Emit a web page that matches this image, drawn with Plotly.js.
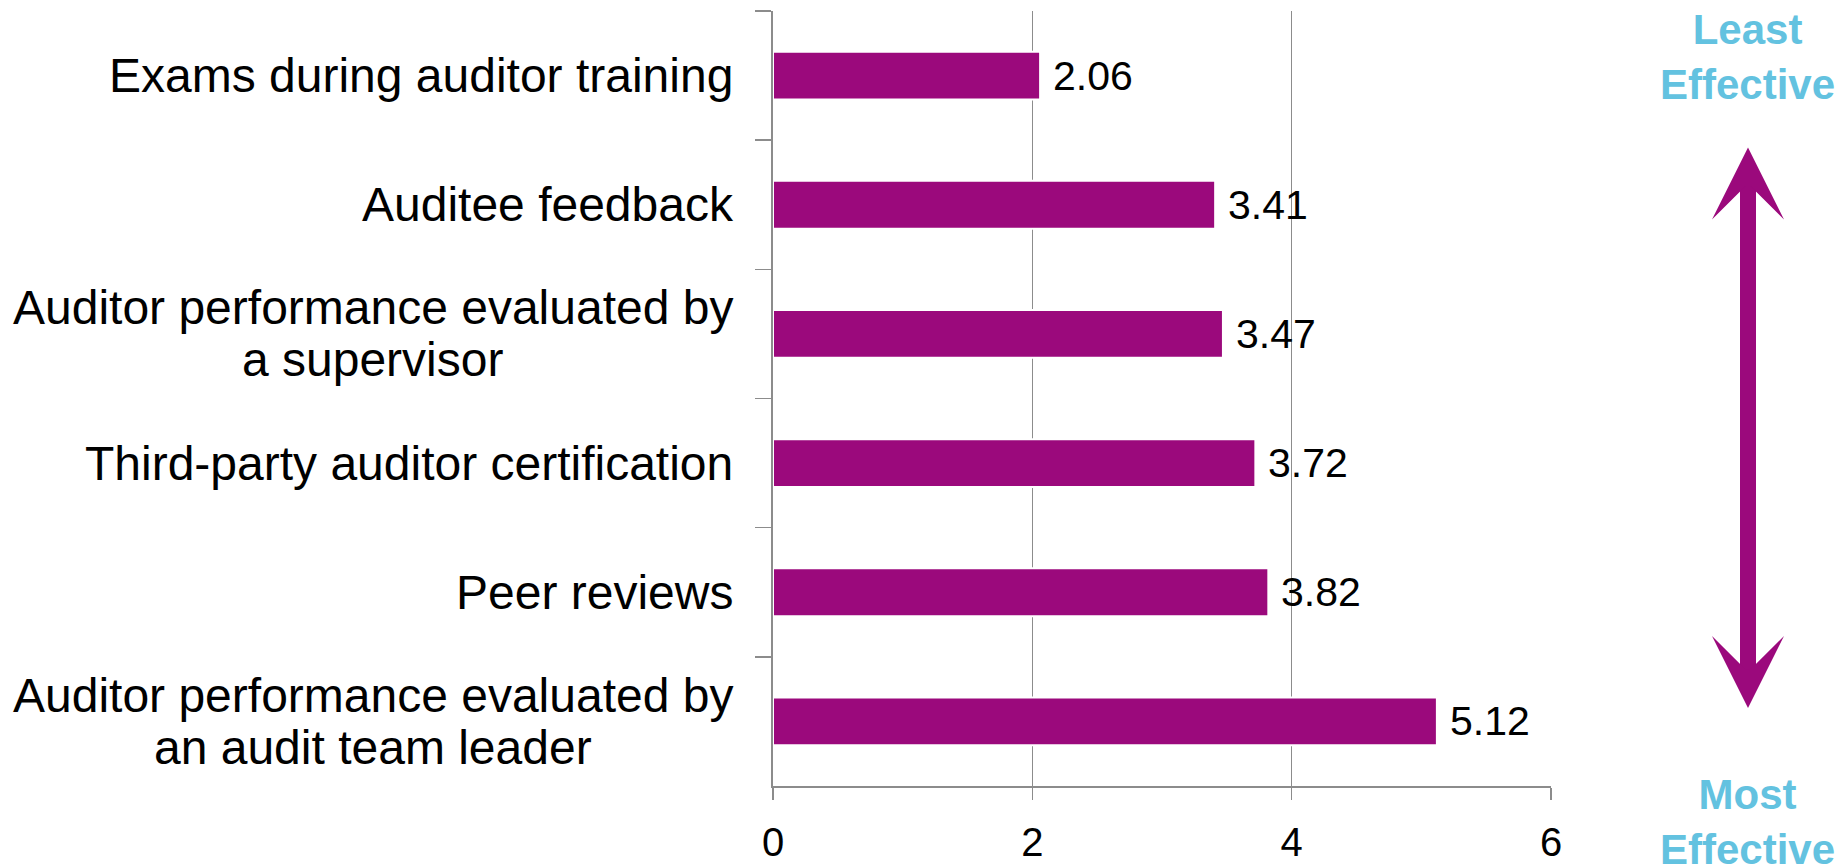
<!DOCTYPE html>
<html>
<head>
<meta charset="utf-8">
<script src="https://cdn.plot.ly/plotly-3.0.1.min.js"></script>
<style>
  html, body { margin: 0; padding: 0; background: #fff; }
  #chart { width: 1844px; height: 868px; }
</style>
</head>
<body>
<div id="chart"></div>
<script>
// Methods, listed top to bottom as in the chart
const methods = [
  'Exams during auditor training',
  'Auditee feedback',
  'Auditor performance evaluated by<br>a supervisor',
  'Third-party auditor certification',
  'Peer reviews',
  'Auditor performance evaluated by<br>an audit team leader'
];
const scores = [2.06, 3.41, 3.47, 3.72, 3.82, 5.12];
const xTicks = [0, 2, 4, 6];
const topNote = 'Least<br>Effective';
const bottomNote = 'Most<br>Effective';

const purple = '#9B097C';
const grey = '#8C8C8C';
const blue = '#63C2E0';
const fontFamily = '"Liberation Sans", Arial, sans-serif';
const labelSize = 48;
const lineGap = 52; // px between label lines

// plot area in pixels
const W = 1844, H = 868;
const margin = { l: 773, r: 293, t: 11, b: 82 };
const plotW = W - margin.l - margin.r;
const plotH = H - margin.t - margin.b;
const px = x => (x - margin.l) / plotW;
const py = y => (H - margin.b - y) / plotH;

// measure text so wrapped labels can be centred under their widest line
const ctx = document.createElement('canvas').getContext('2d');
ctx.font = labelSize + 'px ' + fontFamily;
const textW = s => ctx.measureText(s).width;

const traces = [{
  type: 'bar',
  orientation: 'h',
  x: scores,
  y: methods,
  width: 0.37,
  marker: {
    color: purple,
    line: { color: '#ffffff', width: 2 }
  },
  hoverinfo: 'skip'
}];

const annotations = [];

// category labels, one annotation per line
methods.forEach(m => {
  const lines = m.split('<br>');
  const maxW = Math.max(...lines.map(textW));
  lines.forEach((line, i) => {
    annotations.push({
      xref: 'paper', yref: 'y',
      x: 0, y: m,
      xanchor: 'center', yanchor: 'middle',
      xshift: -40 - maxW / 2,
      yshift: ((lines.length - 1) / 2 - i) * lineGap,
      showarrow: false,
      text: line,
      font: { family: fontFamily, size: labelSize, color: '#000' }
    });
  });
});

// value labels
scores.forEach((v, i) => {
  annotations.push({
    xref: 'x', yref: 'y',
    x: v, y: methods[i],
    xanchor: 'left', yanchor: 'middle',
    xshift: 11,
    showarrow: false,
    text: v.toFixed(2),
    font: { family: fontFamily, size: 41, color: '#000' }
  });
});

// side notes
annotations.push({
  xref: 'paper', yref: 'paper',
  x: px(1747), y: py(57),
  xanchor: 'center', yanchor: 'middle',
  showarrow: false,
  text: topNote,
  font: { family: fontFamily, size: 42, color: blue, weight: 'bold' }
});
annotations.push({
  xref: 'paper', yref: 'paper',
  x: px(1747), y: py(822),
  xanchor: 'center', yanchor: 'middle',
  showarrow: false,
  text: bottomNote,
  font: { family: fontFamily, size: 42, color: blue, weight: 'bold' }
});

// double-headed arrow
annotations.push({
  xref: 'paper', yref: 'paper',
  x: px(1748), y: py(708),
  ax: 0, ay: -(708 - 146),
  text: '',
  showarrow: true,
  arrowside: 'end+start',
  arrowhead: 3,
  startarrowhead: 3,
  arrowwidth: 16,
  arrowsize: 0.75,
  startarrowsize: 0.75,
  arrowcolor: purple,
  standoff: 0,
  startstandoff: 0
});

const layout = {
  width: W,
  height: H,
  margin: margin,
  paper_bgcolor: '#ffffff',
  plot_bgcolor: '#ffffff',
  showlegend: false,
  font: { family: fontFamily, color: '#000' },
  xaxis: {
    range: [0, 6],
    tickvals: xTicks,
    ticktext: xTicks.map(String),
    showgrid: true,
    gridcolor: grey,
    gridwidth: 1.5,
    zeroline: false,
    showline: true,
    linecolor: grey,
    linewidth: 2,
    ticks: 'outside',
    ticklen: 12,
    tickwidth: 1.5,
    tickcolor: grey,
    ticklabelstandoff: 8,
    tickfont: { family: fontFamily, size: 40, color: '#000' },
    fixedrange: true
  },
  yaxis: {
    type: 'category',
    range: [5.5, -0.5],
    tickson: 'boundaries',
    ticks: 'outside',
    ticklen: 16,
    tickwidth: 1.5,
    tickcolor: grey,
    showticklabels: false,
    showgrid: false,
    zeroline: false,
    showline: true,
    linecolor: grey,
    linewidth: 2,
    fixedrange: true
  },
  annotations: annotations
};

Plotly.newPlot('chart', traces, layout, { displayModeBar: false, staticPlot: true });
</script>
</body>
</html>
